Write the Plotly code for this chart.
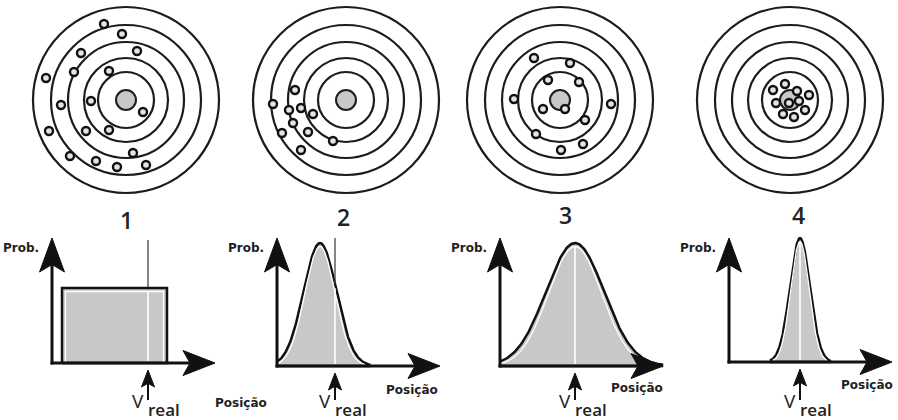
import numpy as np
import plotly.graph_objects as go

# ---------------- data ----------------
target_labels = ["1", "2", "3", "4"]
# hit offsets from target centre (pixels of the original drawing, y downward)
target1_dx = [-22, -4, -45, 11, -52, -17, -80, -65, -35, 17, -77, -40, -17, 7, -56, -30, -9, 20]
target1_dy = [-76, -66, -47, -49, -28, -29, -22, 5, 1, 12, 31, 31, 30, 53, 56, 61, 67, 65]
target2_dx = [-51, -73, -57, -45, -33, -53, -64, -38, -13, -45]
target2_dy = [-10, 4, 10, 8, 14, 23, 33, 32, 41, 50]
target3_dx = [-26, 10, -12, 19, -46, -17, 5, 51, 25, -24, 23, 1]
target3_dy = [-42, -37, -20, -18, -1, 9, 9, 4, 20, 34, 44, 50]
target4_dx = [-17, -5, 7, 19, -14, -1, 9, 15, -7, 4]
target4_dy = [-10, -16, -9, -5, 3, 3, 1, 10, 14, 17]

# distributions (local units: position from the Prob. axis, height above the baseline)
dist_kind = ["uniform", "normal", "normal", "normal"]
dist_center = [62.5, 43, 75, 71]
dist_spread = [52.5, 16.5, 29, 10]      # half-width for uniform, sigma for normal
dist_height = [75, 123, 123, 124]
v_real = [96, 58, 75, 71]

prob_label = "Prob."
pos_label = "Posição"

# ---------------- layout constants ----------------
W, H = 898, 420
target_cx = [126, 346, 560, 790]
target_cy = 100
ring_r = [28, 42, 58, 75, 93]
bull_r = 10
label_xy = [(126, 220), (343, 217), (565, 215), (798, 215)]

panel_ox = [52, 277, 500, 729]
panel_base = [363, 366, 366, 362]
panel_ytip = [238, 238, 238, 238]
panel_xtip = [215, 440, 663, 892]
vline_top = [240, 238, None, None]
pos_xy = [(241, 403), (412, 390), (637, 388), (867, 385)]

GRAY = "#c8c8c8"
INK = "#111111"

fig = go.Figure()
shapes = []
annotations = []

# ---------------- targets ----------------
dxs = [target1_dx, target2_dx, target3_dx, target4_dx]
dys = [target1_dy, target2_dy, target3_dy, target4_dy]
for i, cx in enumerate(target_cx):
    cy = target_cy
    for r in ring_r:
        shapes.append(dict(type="circle", xref="x", yref="y", layer="below",
                           x0=cx - r, x1=cx + r, y0=cy - r, y1=cy + r,
                           line=dict(color="#1c1c1c", width=2.2)))
    shapes.append(dict(type="circle", xref="x", yref="y", layer="below",
                       x0=cx - bull_r, x1=cx + bull_r, y0=cy - bull_r, y1=cy + bull_r,
                       fillcolor=GRAY, line=dict(color="#1c1c1c", width=2)))
    fig.add_trace(go.Scatter(
        x=[cx + d for d in dxs[i]], y=[cy + d for d in dys[i]], mode="markers",
        marker=dict(size=8, color="#e4e4e4", line=dict(color=INK, width=2.4)),
        hoverinfo="skip"))
    lx, ly = label_xy[i]
    annotations.append(dict(x=lx, y=ly, text=target_labels[i], showarrow=False,
                            font=dict(family="Open Sans", size=23, color="#222", weight=600)))


def arrow_up(x, ytip, L, Wd):
    return [x, x + Wd, x, x - Wd, x], [ytip, ytip + L, ytip + L * 0.78, ytip + L, ytip]


def arrow_right(xtip, y, L, Wd):
    return [xtip, xtip - L, xtip - L * 0.78, xtip - L, xtip], [y, y - Wd, y, y + Wd, y]


def poly(xs, ys, fill=None, lc=INK, lw=0):
    fig.add_trace(go.Scatter(x=xs, y=ys, mode="lines",
                             fill="toself" if fill else None, fillcolor=fill,
                             line=dict(color=lc, width=lw), hoverinfo="skip"))


# ---------------- distributions ----------------
for i in range(4):
    ox, base = panel_ox[i], panel_base[i]
    mu, s, h = dist_center[i], dist_spread[i], dist_height[i]
    vx = ox + v_real[i]
    if dist_kind[i] == "uniform":
        l, r = ox + mu - s, ox + mu + s
        poly([l, l, r, r, l], [base, base - h, base - h, base, base], fill=GRAY, lc=INK, lw=2.5)
        ins = 3.5
        poly([l + ins, l + ins, r - ins, r - ins], [base - 1, base - h + ins, base - h + ins, base - 1],
             lc="white", lw=1.3)
        top_at_v = base - h
    else:
        xs = np.linspace(max(0, mu - 3 * s), mu + 3 * s, 240)
        ys = h * np.exp(-0.5 * ((xs - mu) / s) ** 2)
        px = list(ox + xs) + [ox + xs[-1], ox + xs[0]]
        py = list(base - ys) + [base, base]
        poly(px, py, fill=GRAY, lc=INK, lw=2.5)
        xs2 = np.linspace(max(0, mu - 3 * s), mu + 3 * s, 240)
        ys2 = (h - 3.5) * np.exp(-0.5 * ((xs2 - mu) / (s * 0.92)) ** 2)
        keep = ys2 > 1.5
        poly(list(ox + xs2[keep]), list(base - ys2[keep]), lc="white", lw=1.3)
        top_at_v = base - h * np.exp(-0.5 * ((v_real[i] - mu) / s) ** 2)
    # v_real line
    if vline_top[i] is not None:
        poly([vx, vx], [vline_top[i], top_at_v - 1], lc="#444", lw=1.3)
    poly([vx, vx], [top_at_v + 3.5, base - 2], lc="white", lw=1.6)
    # axes
    poly([ox, ox], [base + 1.5, panel_ytip[i] + 26], lc=INK, lw=3)
    poly([ox - 1.5, panel_xtip[i] - 24], [base, base], lc=INK, lw=3)
    ax, ay = arrow_up(ox, panel_ytip[i], 34, 12.5)
    poly(ax, ay, fill=INK, lc=INK, lw=1)
    ax, ay = arrow_right(panel_xtip[i], base, 32, 12.5)
    poly(ax, ay, fill=INK, lc=INK, lw=1)
    # small v_real arrow
    tip = base + 7
    poly([vx, vx], [tip + 10, 400], lc=INK, lw=2)
    ax, ay = arrow_up(vx, tip, 17, 6.5)
    poly(ax, ay, fill=INK, lc=INK, lw=1)
    # texts
    annotations.append(dict(x=vx - 10, y=401, text="V", showarrow=False,
                            font=dict(family="Open Sans", size=19, color="#222")))
    annotations.append(dict(x=vx + 16, y=409, text="real", showarrow=False,
                            font=dict(family="Open Sans", size=17, color="#222", weight=600)))
    annotations.append(dict(x=ox - 11, y=248, text="<b>" + prob_label + "</b>", showarrow=False,
                            xanchor="right",
                            font=dict(family="DejaVu Sans", size=12, color="#222")))
    px_, py_ = pos_xy[i]
    annotations.append(dict(x=px_, y=py_, text="<b>" + pos_label + "</b>", showarrow=False,
                            font=dict(family="DejaVu Sans", size=12, color="#222")))

fig.update_layout(
    width=W, height=H, margin=dict(l=0, r=0, t=0, b=0),
    paper_bgcolor="white", plot_bgcolor="white", showlegend=False,
    xaxis=dict(range=[0, W], visible=False, fixedrange=True),
    yaxis=dict(range=[H, 0], visible=False, fixedrange=True),
    shapes=shapes, annotations=annotations,
)
fig.write_html("out.html", config={"displayModeBar": False},
               post_script="document.body.style.margin='0';document.body.style.overflow='hidden';")
